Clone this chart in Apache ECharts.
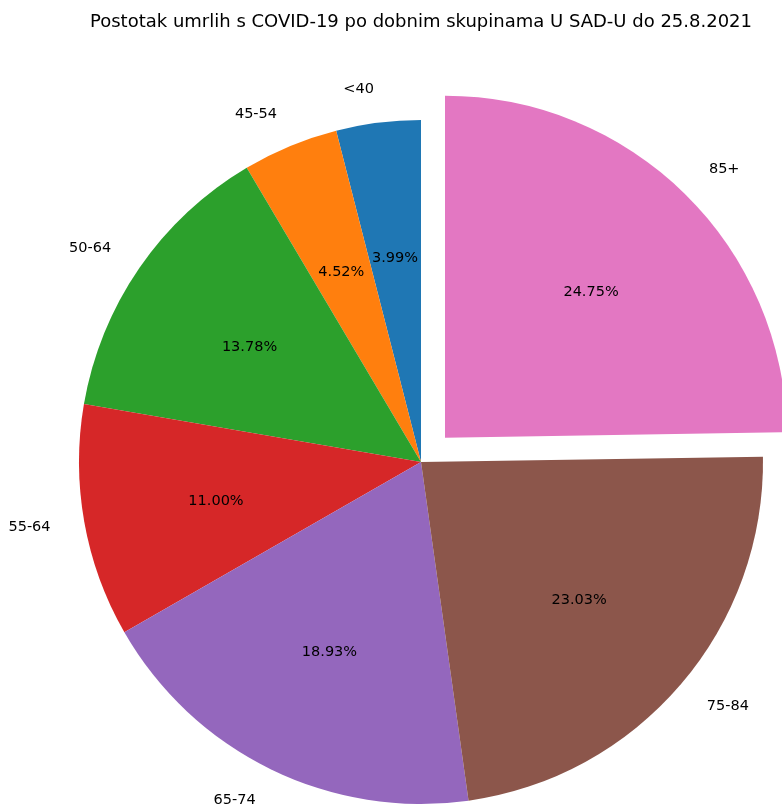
<!DOCTYPE html>
<html>
<head>
<meta charset="utf-8">
<script src="https://cdn.jsdelivr.net/npm/echarts@6/dist/echarts.min.js"></script>
<style>
  html, body { margin: 0; padding: 0; background: #fff; }
  #chart { width: 782px; height: 805px; }
</style>
</head>
<body>
<div id="chart"></div>
<script>
// Data (percent of COVID-19 deaths by age group)
const ageGroups = ['<40', '45-54', '50-64', '55-64', '65-74', '75-84', '85+'];
const shares = [3.99, 4.52, 13.78, 11.00, 18.93, 23.03, 24.75];
const sliceColors = ['#1f77b4', '#ff7f0e', '#2ca02c', '#d62728', '#9467bd', '#8c564b', '#e377c2'];
const explodedGroup = '85+';

const R = 342;
const center = [421, 462];
const font = 'DejaVu Sans';

const chart = echarts.init(document.getElementById('chart'));

function items(colored) {
  return ageGroups.map((name, i) => ({
    name,
    value: shares[i],
    selected: name === explodedGroup,
    itemStyle: colored ? { color: sliceColors[i] } : { color: 'rgba(0,0,0,0)' },
  }));
}

const common = {
  type: 'pie',
  center,
  startAngle: 90,
  clockwise: false,
  selectedMode: 'multiple',
  selectedOffset: 0.1 * R,
  avoidLabelOverlap: false,
  silent: true,
  animation: false,
  emphasis: { disabled: true },
};

chart.setOption({
  title: {
    text: 'Postotak umrlih s COVID-19 po dobnim skupinama U SAD-U do 25.8.2021',
    left: 85,
    top: 8,
    textStyle: { fontFamily: font, fontSize: 18, fontWeight: 'normal', color: '#000' },
  },
  series: [
    {
      ...common,
      radius: [0, R],
      data: items(true),
      itemStyle: { borderWidth: 0 },
      label: {
        show: true,
        position: 'outside',
        formatter: '{b}',
        fontFamily: font,
        fontSize: 14.5,
        color: '#000',
        distanceToLabelLine: 0,
      },
      labelLine: { show: false, length: 0.1 * R, length2: 0 },
    },
    {
      ...common,
      radius: [0.5 * R, 0.7 * R],
      data: items(false),
      label: {
        show: true,
        position: 'inner',
        formatter: (p) => p.value.toFixed(2) + '%',
        fontFamily: font,
        fontSize: 14.5,
        color: '#000',
      },
      labelLayout: { dy: 3 },
      labelLine: { show: false },
    },
  ],
});
</script>
</body>
</html>
